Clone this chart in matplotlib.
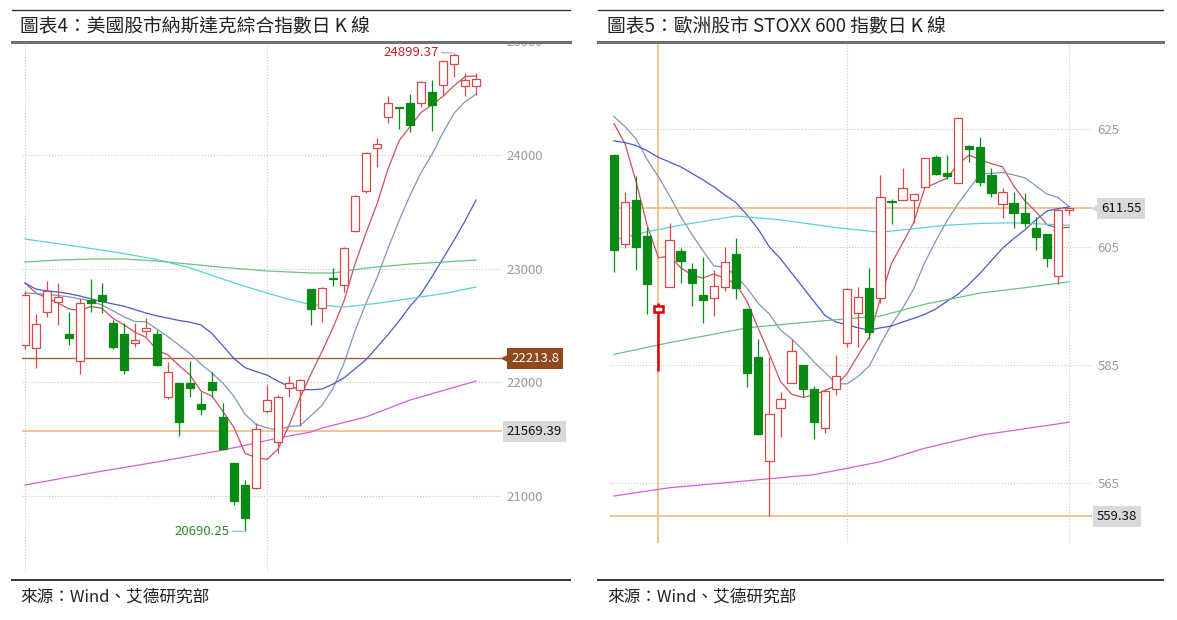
import matplotlib
matplotlib.use('Agg')
import matplotlib.pyplot as plt
import matplotlib.transforms as mtransforms
from matplotlib.patches import Rectangle
from matplotlib.lines import Line2D

plt.rcParams['font.family'] = ['Noto Sans CJK TC', 'DejaVu Sans']

W, H = 1177, 620

UP = '#d84a4a'
DOWN = '#0a8a14'

# ---- Nasdaq Composite, daily candles ----
nas_open = [22329, 22303, 22619, 22707, 22426, 22188, 22724, 22769, 22522, 22426, 22346, 22452, 22426, 21871,
            21995, 21995, 21810, 22004, 21696, 21291, 21097, 21071, 21748, 21476, 21951, 21933, 22821, 22654,
            22922, 22856, 23331, 23683, 24061, 24334, 24418, 24457, 24457, 24554, 24615, 24800, 24607, 24607]
nas_high = [22800, 22602, 22892, 22874, 22619, 22742, 22909, 22874, 22549, 22522, 22522, 22566, 22461, 22179,
            21995, 22188, 21915, 22091, 21819, 21291, 21142, 21643, 21977, 21889, 22056, 22030, 22821, 22839,
            23006, 23190, 23645, 24025, 24149, 24519, 24422, 24536, 24651, 24660, 24836, 24899.37, 24721, 24721]
nas_low = [22290, 22127, 22575, 22505, 22329, 22074, 22619, 22610, 22294, 22074, 22311, 22408, 22144, 21854,
           21528, 21871, 21713, 21871, 21414, 20922, 20690.25, 21060, 21731, 21379, 21871, 21616, 22505, 22531,
           22848, 22795, 23325, 23666, 23894, 24281, 24228, 24202, 24422, 24211, 24527, 24686, 24519, 24527]
nas_close = [22769, 22514, 22804, 22751, 22390, 22698, 22698, 22716, 22311, 22109, 22373, 22478, 22153, 22091,
             21652, 21951, 21766, 21933, 21414, 20957, 20807, 21590, 21845, 21871, 21995, 22021, 22645, 22830,
             22913, 23182, 23639, 24017, 24097, 24457, 24409, 24264, 24642, 24440, 24827, 24879, 24660, 24668]

nas_ma5 = [22874, 22786, 22742, 22698, 22646, 22631, 22668, 22651, 22563, 22506, 22441, 22397, 22285, 22241,
           22149, 22065, 21923, 21879, 21743, 21604, 21375, 21340, 21323, 21414, 21622, 21864, 22075, 22272,
           22481, 22718, 23042, 23316, 23570, 23878, 24124, 24249, 24374, 24442, 24516, 24610, 24690, 24695]
nas_ma10 = [22786, 22780, 22772, 22765, 22752, 22735, 22716, 22680, 22630, 22576, 22536, 22533, 22468, 22402,
            22328, 22253, 22160, 22082, 21992, 21877, 21720, 21631, 21601, 21579, 21613, 21620, 21708, 21798,
            21947, 22170, 22453, 22696, 22921, 23180, 23421, 23645, 23845, 24006, 24197, 24367, 24469, 24534]
nas_ma20 = [22874, 22820, 22805, 22795, 22780, 22760, 22735, 22710, 22690, 22670, 22640, 22610, 22585, 22565,
            22545, 22530, 22505, 22430, 22320, 22210, 22130, 22095, 22065, 22010, 21965, 21940, 21935, 21942,
            21985, 22040, 22120, 22200, 22310, 22420, 22540, 22670, 22780, 22930, 23090, 23250, 23420, 23604]
nas_ma60_x = [0, 3, 6, 9, 12, 15, 18, 20, 22, 24, 26, 29, 32, 36, 38, 41]
nas_ma60 = [23261, 23220, 23178, 23133, 23080, 23008, 22908, 22845, 22786, 22730, 22685, 22663, 22695, 22752,
            22780, 22839]
nas_ma120_x = [0, 3, 6, 9, 12, 15, 18, 22, 26, 28, 31, 35, 41]
nas_ma120 = [23059, 23076, 23085, 23085, 23068, 23040, 23012, 22980, 22962, 22962, 23006, 23041, 23076]
nas_ma250_x = [0, 6, 12, 18, 21, 23, 26, 27, 31, 35, 41]
nas_ma250 = [21097, 21203, 21300, 21405, 21467, 21511, 21564, 21599, 21696, 21845, 22012]

nas_ticks = [21000, 22000, 23000, 24000, 25000]
nas_vgrid = [0, 22]
nas_mark_a = 22213.8
nas_mark_b = 21569.39

# ---- STOXX 600, daily candles ----
sx_open = [620.59, 605.51, 612.97, 606.86, 593.98, 598.22, 604.32, 601.27, 596.86, 596.36, 598.22, 603.81,
           594.49, 586.36, 568.73, 577.71, 581.95, 585.00, 580.93, 574.32, 580.93, 588.73, 593.81, 598.05,
           596.36, 612.88, 612.97, 612.97, 615.17, 620.25, 617.54, 615.85, 622.12, 621.95, 617.20, 612.29,
           612.46, 610.76, 608.22, 607.20, 600.08, 611.30]
sx_high = [620.80, 614.32, 617.03, 608.39, 595.51, 609.07, 604.83, 602.29, 603.31, 601.10, 605.00, 606.53,
           594.70, 589.41, 586.36, 580.42, 589.41, 585.00, 581.44, 580.93, 586.69, 598.05, 598.22, 601.44,
           617.20, 613.14, 618.39, 613.98, 620.10, 620.59, 620.59, 627.03, 622.29, 623.64, 618.39, 615.00,
           614.32, 614.15, 610.08, 607.20, 611.61, 611.65]
sx_low = [600.76, 604.83, 601.10, 593.64, 583.98, 598.22, 598.90, 594.95, 592.12, 593.30, 597.54, 596.19,
          581.27, 573.20, 559.38, 572.80, 581.90, 579.58, 572.46, 573.48, 579.92, 588.05, 588.05, 589.41,
          595.50, 608.90, 612.97, 609.07, 615.10, 617.20, 616.53, 615.80, 619.41, 615.34, 613.47, 609.92,
          608.22, 608.39, 604.49, 601.61, 598.73, 610.42]
sx_close = [604.49, 612.63, 605.00, 598.73, 594.95, 606.19, 602.63, 598.90, 596.02, 598.39, 602.46, 598.05,
            583.64, 573.30, 576.70, 579.24, 587.36, 580.93, 575.34, 580.59, 583.13, 597.88, 596.53, 590.59,
            613.47, 612.71, 615.00, 613.98, 620.08, 617.37, 617.03, 626.86, 621.61, 616.02, 614.15, 614.32,
            610.76, 609.07, 606.69, 603.14, 611.27, 611.55]

sx_ma5 = [625.9, 622.5, 616.0, 608.6, 603.16, 603.50, 601.50, 600.28, 599.74, 600.43, 599.68, 598.76, 595.71,
          591.17, 586.83, 582.19, 580.05, 579.51, 579.91, 580.69, 581.47, 583.57, 586.69, 589.74, 596.32,
          602.24, 605.66, 609.15, 615.05, 615.83, 616.69, 619.06, 620.59, 619.78, 619.13, 618.59, 615.37,
          612.86, 611.00, 608.80, 608.19, 608.34]
sx_ma10 = [627.1, 625.4, 623.3, 619.8, 616.9, 613.7, 610.2, 607.2, 604.4, 601.79, 601.59, 600.13, 598.00,
           595.45, 593.63, 590.93, 589.41, 587.61, 585.54, 583.76, 581.83, 581.81, 583.10, 584.83, 588.51,
           591.85, 594.62, 597.92, 602.40, 606.07, 609.46, 612.36, 614.87, 617.41, 617.48, 617.64, 617.22,
           616.73, 615.39, 613.97, 613.39, 611.86]
sx_ma20 = [623.0, 622.7, 622.2, 621.3, 620.2, 619.4, 618.6, 617.5, 616.4, 615.2, 613.8, 612.5, 610.4, 608.0,
           605.0, 603.0, 600.6, 598.2, 595.8, 593.4, 592.3, 591.8, 591.3, 590.9, 591.3, 591.6, 592.3, 592.9,
           593.6, 594.5, 595.8, 597.0, 598.7, 600.6, 602.7, 604.8, 606.4, 607.9, 609.6, 611.1, 611.5, 611.8]
sx_ma60_x = [0, 3, 6, 11, 15, 20, 24, 30, 33, 36, 41]
sx_ma60 = [606.2, 607.6, 608.7, 610.25, 609.6, 608.3, 607.5, 608.7, 609.0, 609.1, 608.7]
sx_ma120_x = [0, 5, 12, 17, 24, 28, 33, 37, 41]
sx_ma120 = [586.8, 588.8, 591.3, 592.2, 593.3, 595.3, 597.2, 598.1, 599.1]
sx_ma250_x = [0, 5, 11, 15, 18, 21, 24, 28, 33, 37, 41]
sx_ma250 = [562.8, 564.2, 565.2, 565.9, 566.4, 567.5, 568.6, 570.9, 573.1, 574.2, 575.3]

sx_ticks = [565, 585, 605, 625]
sx_vgrid = [21, 41]
sx_mark_a = 611.55
sx_mark_b = 559.38
sx_selected = 4

MA_COLORS = ['#d0505c', '#7c98bc', '#4a5cc4', '#5cd0d8', '#6cc27e', '#d35ee0']

TITLE_L = '圖表4：美國股市納斯達克綜合指數日 K 線'
TITLE_R = '圖表5：歐洲股市 STOXX 600 指數日 K 線'
SOURCE = '來源：Wind、艾德研究部'


def px_rect(x0, y0, x1, y1):
    return [x0 / W, 1 - y1 / H, (x1 - x0) / W, (y1 - y0) / H]


def hline_px(fig, x0, x1, y, color, lw):
    fig.add_artist(Line2D([x0 / W, x1 / W], [1 - y / H, 1 - y / H], transform=fig.transFigure,
                          color=color, lw=lw, zorder=5))


def draw_candles(ax, opens, highs, lows, closes, width, tiny, selected=None):
    for i, (o, h, l, c) in enumerate(zip(opens, highs, lows, closes)):
        up = c >= o
        col = UP if up else DOWN
        lw = 0.9
        if i == selected:
            col, lw = '#e00000', 1.8
        ax.plot([i, i], [l, h], color=col, lw=lw, zorder=3, solid_capstyle='butt')
        bottom = min(o, c)
        height = max(abs(c - o), tiny)
        ax.add_patch(Rectangle((i - width / 2, bottom), width, height, fc='white' if up else col,
                               ec=col, lw=lw, zorder=4))


def draw_mas(ax, ma5, ma10, ma20, slow):
    n = range(len(ma5))
    ax.plot(n, ma5, color=MA_COLORS[0], lw=0.9, zorder=2)
    ax.plot(n, ma10, color=MA_COLORS[1], lw=0.9, zorder=2)
    ax.plot(n, ma20, color=MA_COLORS[2], lw=0.9, zorder=2)
    for (xs, ys), col in zip(slow, MA_COLORS[3:]):
        ax.plot(xs, ys, color=col, lw=0.9, zorder=2)


def side_label(ax, y, text, fc, tc, xfrac, arrow=False):
    trans = mtransforms.blended_transform_factory(ax.transAxes, ax.transData)
    ax.text(xfrac, y, text, transform=trans, ha='left', va='center', fontsize=9.5, color=tc,
            bbox=dict(boxstyle='square,pad=0.3', fc=fc, ec='none'), clip_on=False, zorder=6)
    if arrow:
        ax.plot([1.005], [y], marker='<', ms=6, mec='none', mfc=fc, transform=trans,
                clip_on=False, zorder=5)


def style_axis(ax, ticks, vgrid, pad):
    for s in ax.spines.values():
        s.set_visible(False)
    ax.set_xticks([])
    ax.yaxis.tick_right()
    ax.set_yticks(ticks)
    ax.tick_params(axis='y', length=0, pad=pad, labelsize=9.5, labelcolor='#9a9a9a')
    ax.grid(axis='y', ls=':', color='#c8c8c8', lw=0.8)
    for v in vgrid:
        ax.axvline(v, ls=':', color='#c8c8c8', lw=0.8, zorder=0)


fig = plt.figure(figsize=(W / 100, H / 100), dpi=100)

# left panel
ax1 = fig.add_axes(px_rect(22, 40, 502, 573))
draw_mas(ax1, nas_ma5, nas_ma10, nas_ma20,
         [(nas_ma60_x, nas_ma60), (nas_ma120_x, nas_ma120), (nas_ma250_x, nas_ma250)])
draw_candles(ax1, nas_open, nas_high, nas_low, nas_close, 0.78, 8)
ax1.axhline(nas_mark_a, color='#a8653e', lw=1.0, zorder=1.5)
ax1.axhline(nas_mark_b, color='#f2c08c', lw=1.3, zorder=1.5)
ax1.set_xlim(-0.273, 43.36)
ax1.set_ylim(20323.7, 25011.4)
style_axis(ax1, nas_ticks, nas_vgrid, 3)
side_label(ax1, nas_mark_a, '22213.8', '#8e4a1e', 'white', 1.019, arrow=True)
side_label(ax1, nas_mark_b, '21569.39', '#d9d9d9', '#111111', 1.01)

hi_i = nas_high.index(max(nas_high))
lo_i = nas_low.index(min(nas_low))
ax1.annotate(f'{nas_high[hi_i]:.2f}', xy=(hi_i, nas_high[hi_i]), xytext=(-11, 0),
             textcoords='offset points', ha='right', va='center', fontsize=9.5, color='#c81e1e',
             arrowprops=dict(arrowstyle='-', color='#8fb0c8', lw=0.8, shrinkA=0, shrinkB=1))
ax1.annotate(f'{nas_low[lo_i]:.2f}', xy=(lo_i, nas_low[lo_i]), xytext=(-11, 0),
             textcoords='offset points', ha='right', va='center', fontsize=9.5, color='#2a8a2a',
             arrowprops=dict(arrowstyle='-', color='#8fb0c8', lw=0.8, shrinkA=0, shrinkB=1))

# right panel
ax2 = fig.add_axes(px_rect(610, 44, 1092, 543))
draw_mas(ax2, sx_ma5, sx_ma10, sx_ma20,
         [(sx_ma60_x, sx_ma60), (sx_ma120_x, sx_ma120), (sx_ma250_x, sx_ma250)])
draw_candles(ax2, sx_open, sx_high, sx_low, sx_close, 0.75, 0.15, selected=sx_selected)
ax2.axhline(sx_mark_a, color='#f2b985', lw=1.2, zorder=1.5)
ax2.axhline(sx_mark_b, color='#f2b985', lw=1.2, zorder=1.5)
ax2.axvline(sx_selected, color='#f2b985', lw=1.2, zorder=1.5)
ax2.set_xlim(-0.36, 43.06)
ax2.set_ylim(554.83, 639.41)
style_axis(ax2, sx_ticks, sx_vgrid, 4)
side_label(ax2, sx_mark_a, f'{sx_mark_a:.2f}', '#d9d9d9', '#111111', 1.019, arrow=True)
side_label(ax2, sx_mark_b, f'{sx_mark_b:.2f}', '#d9d9d9', '#111111', 1.01)

# header / footer
fig.add_artist(Rectangle((0, 1 - 41 / H), 590 / W, 41 / H, transform=fig.transFigure,
                         fc='white', ec='none', zorder=1))
for x0, x1, tx, title in [(12, 570, 20, TITLE_L), (598, 1163, 607, TITLE_R)]:
    hline_px(fig, x0, x1, 9.5, '#333333', 1.0)
    hline_px(fig, x0, x1, 41.5, '#707070', 2.2)
    hline_px(fig, x0, x1, 579.5, '#333333', 1.4)
    fig.text(tx / W, 1 - 26 / H, title, fontsize=13.5, va='center', ha='left', color='#222222', zorder=6)
    fig.text(tx / W, 1 - 597 / H, SOURCE, fontsize=12, va='center', ha='left', color='#222222', zorder=6)

fig.savefig('out.png', dpi=100)
